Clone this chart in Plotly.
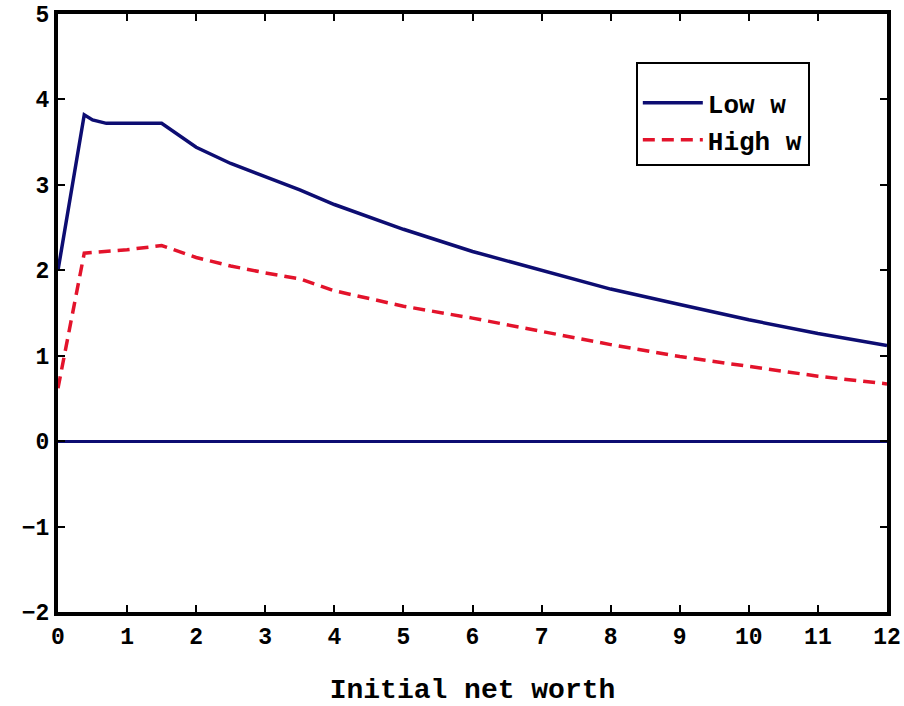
import plotly.graph_objects as go

# Data
x_low = [0.0, 0.38, 0.5, 0.7, 1.5, 2.0, 2.5, 3.0, 3.5, 4.0, 5.0, 6.0, 7.0, 8.0, 9.0, 10.0, 11.0, 12.0]
y_low = [2.0, 3.82, 3.76, 3.72, 3.72, 3.44, 3.25, 3.10, 2.94, 2.77, 2.48, 2.22, 2.00, 1.78, 1.60, 1.42, 1.26, 1.12]

x_high = [0.0, 0.38, 1.0, 1.5, 2.0, 2.5, 3.0, 3.5, 4.0, 5.0, 6.0, 7.0, 8.0, 9.0, 10.0, 11.0, 12.0]
y_high = [0.62, 2.20, 2.24, 2.29, 2.15, 2.05, 1.97, 1.90, 1.76, 1.58, 1.44, 1.28, 1.13, 0.99, 0.88, 0.76, 0.67]

x_ticks = list(range(0, 13))
y_ticks = list(range(-2, 6))

NAVY = "#0d0d72"
RED = "#e3132b"
FONT = "Liberation Mono"

fig = go.Figure()
fig.add_trace(go.Scatter(x=x_low, y=y_low, mode="lines", name="Low w",
                         line=dict(color=NAVY, width=3.5)))
fig.add_trace(go.Scatter(x=x_high, y=y_high, mode="lines", name="High w",
                         line=dict(color=RED, width=3.5, dash="12px,7px")))

axis_common = dict(showline=True, linecolor="black", linewidth=4, mirror="ticks",
                   ticks="inside", ticklen=7, tickwidth=2, tickcolor="black",
                   showgrid=False, automargin=False,
                   tickfont=dict(family=FONT, size=23, color="black", weight="bold"))

fig.update_xaxes(range=[0, 12], tickvals=x_ticks, zeroline=False,
                 title=dict(text="Initial net worth",
                            font=dict(family=FONT, size=28, color="black", weight="bold"),
                            standoff=36),
                 **axis_common)
fig.update_yaxes(range=[-2, 5], tickvals=y_ticks, zeroline=True,
                 zerolinecolor=NAVY, zerolinewidth=3,
                 **axis_common)

fig.update_layout(
    width=904, height=706,
    margin=dict(l=58, r=17, t=14, b=94),
    paper_bgcolor="white", plot_bgcolor="white",
    showlegend=True,
    legend=dict(x=0.697, y=0.92, xanchor="left", yanchor="top",
                bordercolor="black", borderwidth=2, bgcolor="white",
                title=dict(text=" ", font=dict(family=FONT, size=12)),
                font=dict(family=FONT, size=26, color="black", weight="bold"),
                itemwidth=60, tracegroupgap=0),
)

fig.write_html("out.html")
